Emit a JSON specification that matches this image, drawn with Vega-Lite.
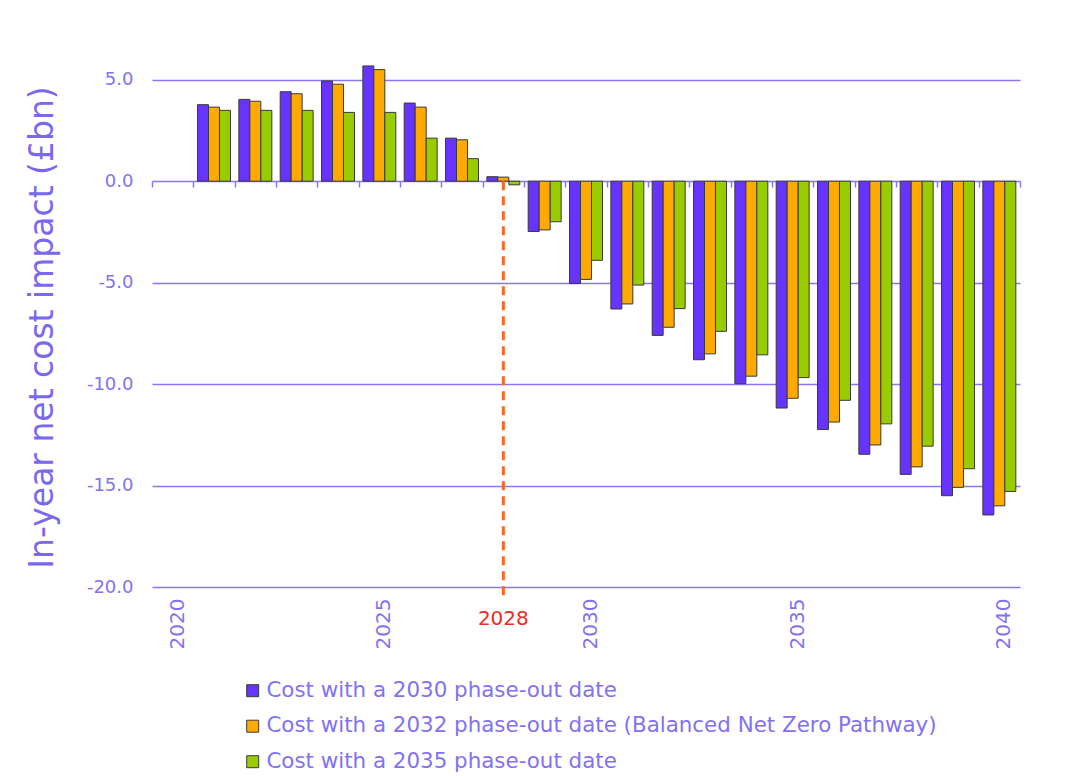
{
  "$schema": "https://vega.github.io/schema/vega-lite/v6.json",
  "width": 868,
  "height": 558,
  "autosize": {"type": "none"},
  "padding": {"left": 152, "top": 29, "right": 46, "bottom": 189},
  "background": "white",
  "config": {"view": {"stroke": null}, "font": "DejaVu Sans"},
  "datasets": {
    "costs": [
      {"year": 2021, "series": "Cost with a 2030 phase-out date", "value": 3.77},
      {"year": 2021, "series": "Cost with a 2032 phase-out date (Balanced Net Zero Pathway)", "value": 3.65},
      {"year": 2021, "series": "Cost with a 2035 phase-out date", "value": 3.49},
      {"year": 2022, "series": "Cost with a 2030 phase-out date", "value": 4.03},
      {"year": 2022, "series": "Cost with a 2032 phase-out date (Balanced Net Zero Pathway)", "value": 3.94},
      {"year": 2022, "series": "Cost with a 2035 phase-out date", "value": 3.49},
      {"year": 2023, "series": "Cost with a 2030 phase-out date", "value": 4.41},
      {"year": 2023, "series": "Cost with a 2032 phase-out date (Balanced Net Zero Pathway)", "value": 4.31},
      {"year": 2023, "series": "Cost with a 2035 phase-out date", "value": 3.49},
      {"year": 2024, "series": "Cost with a 2030 phase-out date", "value": 4.94},
      {"year": 2024, "series": "Cost with a 2032 phase-out date (Balanced Net Zero Pathway)", "value": 4.78},
      {"year": 2024, "series": "Cost with a 2035 phase-out date", "value": 3.39},
      {"year": 2025, "series": "Cost with a 2030 phase-out date", "value": 5.68},
      {"year": 2025, "series": "Cost with a 2032 phase-out date (Balanced Net Zero Pathway)", "value": 5.5},
      {"year": 2025, "series": "Cost with a 2035 phase-out date", "value": 3.39},
      {"year": 2026, "series": "Cost with a 2030 phase-out date", "value": 3.85},
      {"year": 2026, "series": "Cost with a 2032 phase-out date (Balanced Net Zero Pathway)", "value": 3.65},
      {"year": 2026, "series": "Cost with a 2035 phase-out date", "value": 2.12},
      {"year": 2027, "series": "Cost with a 2030 phase-out date", "value": 2.12},
      {"year": 2027, "series": "Cost with a 2032 phase-out date (Balanced Net Zero Pathway)", "value": 2.04},
      {"year": 2027, "series": "Cost with a 2035 phase-out date", "value": 1.11},
      {"year": 2028, "series": "Cost with a 2030 phase-out date", "value": 0.22},
      {"year": 2028, "series": "Cost with a 2032 phase-out date (Balanced Net Zero Pathway)", "value": 0.2},
      {"year": 2028, "series": "Cost with a 2035 phase-out date", "value": -0.18},
      {"year": 2029, "series": "Cost with a 2030 phase-out date", "value": -2.48},
      {"year": 2029, "series": "Cost with a 2032 phase-out date (Balanced Net Zero Pathway)", "value": -2.4},
      {"year": 2029, "series": "Cost with a 2035 phase-out date", "value": -2.0},
      {"year": 2030, "series": "Cost with a 2030 phase-out date", "value": -5.04},
      {"year": 2030, "series": "Cost with a 2032 phase-out date (Balanced Net Zero Pathway)", "value": -4.84},
      {"year": 2030, "series": "Cost with a 2035 phase-out date", "value": -3.9},
      {"year": 2031, "series": "Cost with a 2030 phase-out date", "value": -6.3},
      {"year": 2031, "series": "Cost with a 2032 phase-out date (Balanced Net Zero Pathway)", "value": -6.05},
      {"year": 2031, "series": "Cost with a 2035 phase-out date", "value": -5.12},
      {"year": 2032, "series": "Cost with a 2030 phase-out date", "value": -7.6},
      {"year": 2032, "series": "Cost with a 2032 phase-out date (Balanced Net Zero Pathway)", "value": -7.2},
      {"year": 2032, "series": "Cost with a 2035 phase-out date", "value": -6.28},
      {"year": 2033, "series": "Cost with a 2030 phase-out date", "value": -8.8},
      {"year": 2033, "series": "Cost with a 2032 phase-out date (Balanced Net Zero Pathway)", "value": -8.51},
      {"year": 2033, "series": "Cost with a 2035 phase-out date", "value": -7.4},
      {"year": 2034, "series": "Cost with a 2030 phase-out date", "value": -9.98},
      {"year": 2034, "series": "Cost with a 2032 phase-out date (Balanced Net Zero Pathway)", "value": -9.61},
      {"year": 2034, "series": "Cost with a 2035 phase-out date", "value": -8.56},
      {"year": 2035, "series": "Cost with a 2030 phase-out date", "value": -11.18},
      {"year": 2035, "series": "Cost with a 2032 phase-out date (Balanced Net Zero Pathway)", "value": -10.7},
      {"year": 2035, "series": "Cost with a 2035 phase-out date", "value": -9.68},
      {"year": 2036, "series": "Cost with a 2030 phase-out date", "value": -12.24},
      {"year": 2036, "series": "Cost with a 2032 phase-out date (Balanced Net Zero Pathway)", "value": -11.87},
      {"year": 2036, "series": "Cost with a 2035 phase-out date", "value": -10.8},
      {"year": 2037, "series": "Cost with a 2030 phase-out date", "value": -13.46},
      {"year": 2037, "series": "Cost with a 2032 phase-out date (Balanced Net Zero Pathway)", "value": -13.0},
      {"year": 2037, "series": "Cost with a 2035 phase-out date", "value": -11.96},
      {"year": 2038, "series": "Cost with a 2030 phase-out date", "value": -14.45},
      {"year": 2038, "series": "Cost with a 2032 phase-out date (Balanced Net Zero Pathway)", "value": -14.08},
      {"year": 2038, "series": "Cost with a 2035 phase-out date", "value": -13.06},
      {"year": 2039, "series": "Cost with a 2030 phase-out date", "value": -15.5},
      {"year": 2039, "series": "Cost with a 2032 phase-out date (Balanced Net Zero Pathway)", "value": -15.09},
      {"year": 2039, "series": "Cost with a 2035 phase-out date", "value": -14.17},
      {"year": 2040, "series": "Cost with a 2030 phase-out date", "value": -16.45},
      {"year": 2040, "series": "Cost with a 2032 phase-out date (Balanced Net Zero Pathway)", "value": -16.0},
      {"year": 2040, "series": "Cost with a 2035 phase-out date", "value": -15.29}
    ],
    "marker": [{"year": 2028, "label": "2028", "top": 0, "bottom": -20.5}]
  },
  "layer": [
    {
      "data": {"name": "costs"},
      "mark": {"type": "bar", "stroke": "#3a3a3a", "strokeWidth": 1},
      "encoding": {
        "x": {
          "field": "year",
          "type": "ordinal",
          "scale": {
            "domain": [2020, 2021, 2022, 2023, 2024, 2025, 2026, 2027, 2028, 2029, 2030, 2031, 2032, 2033, 2034, 2035, 2036, 2037, 2038, 2039, 2040],
            "paddingInner": 0,
            "paddingOuter": 0
          },
          "axis": {
            "title": null,
            "orient": "bottom",
            "domain": false,
            "ticks": false,
            "grid": false,
            "labelAngle": -90,
            "labelPadding": 11,
            "labelOffset": 5,
            "labelFontSize": 20,
            "labelColor": "#8272f2",
            "labelFont": "DejaVu Sans",
            "labelExpr": "datum.value % 5 === 0 ? datum.label : ''"
          }
        },
        "xOffset": {
          "field": "series",
          "type": "nominal",
          "scale": {"paddingInner": 0, "paddingOuter": 0.38}
        },
        "y": {
          "field": "value",
          "type": "quantitative",
          "scale": {"domain": [-20, 7.5], "nice": false, "zero": false},
          "axis": {
            "title": "In-year net cost impact (£bn)",
            "titleFontSize": 33,
            "titleFontWeight": "normal",
            "titleColor": "#7a68f0",
            "titleFont": "DejaVu Sans",
            "titleX": -110,
            "titleY": 298,
            "titleAngle": -90,
            "titleAlign": "center",
            "titleBaseline": "middle",
            "values": [-20, -15, -10, -5, 0, 5],
            "labelExpr": "replace(format(datum.value, '.1f'), '\u2212', '-')",
            "domain": false,
            "ticks": false,
            "labelPadding": 19,
            "labelFontSize": 18,
            "labelColor": "#8272f2",
            "labelFont": "DejaVu Sans",
            "grid": true,
            "gridColor": "#8878f4",
            "gridWidth": 1.5,
            "gridOpacity": 1
          }
        },
        "color": {
          "field": "series",
          "type": "nominal",
          "scale": {
            "domain": ["Cost with a 2030 phase-out date", "Cost with a 2032 phase-out date (Balanced Net Zero Pathway)", "Cost with a 2035 phase-out date"],
            "range": ["#6633ff", "#ffaa00", "#99cc00"]
          },
          "legend": {
            "title": null,
            "orient": "none",
            "legendX": 90,
            "legendY": 651,
            "symbolType": "square",
            "symbolSize": 144,
            "symbolStrokeColor": "#3a3a3a",
            "symbolStrokeWidth": 1,
            "symbolOpacity": 1,
            "labelFontSize": 21.4,
            "labelFont": "DejaVu Sans",
            "labelColor": "#8272f2",
            "labelOffset": 3,
            "labelLimit": 0,
            "rowPadding": 12.5,
            "padding": 0
          }
        }
      }
    },
    {
      "data": {"name": "marker"},
      "mark": {"type": "rule", "stroke": "#ff6622", "strokeWidth": 3, "strokeDash": [9, 6]},
      "encoding": {
        "x": {
          "field": "year",
          "type": "ordinal",
          "axis": {
            "title": null,
            "orient": "bottom",
            "offset": -406,
            "labels": false,
            "domain": false,
            "grid": false,
            "ticks": true,
            "tickBand": "extent",
            "tickSize": 6,
            "tickColor": "#8878f4",
            "tickWidth": 1.5
          }
        },
        "y": {"field": "top", "type": "quantitative"},
        "y2": {"field": "bottom"}
      }
    },
    {
      "data": {"name": "marker"},
      "mark": {"type": "text", "color": "#ee2a2a", "fontSize": 20, "font": "DejaVu Sans", "dy": 22, "baseline": "middle", "align": "center"},
      "encoding": {
        "x": {"field": "year", "type": "ordinal", "axis": null},
        "y": {"field": "bottom", "type": "quantitative"},
        "text": {"field": "label"}
      }
    }
  ],
  "resolve": {"axis": {"x": "independent"}}
}
